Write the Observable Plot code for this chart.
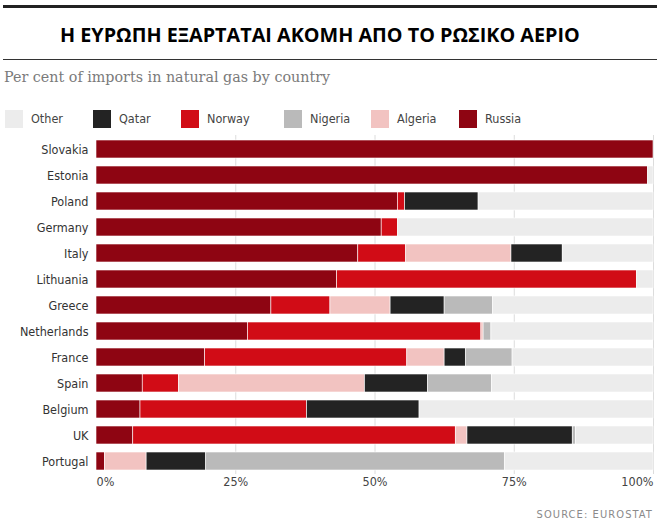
<!DOCTYPE html>
<html>
<head>
<meta charset="utf-8">
<script src="https://cdn.jsdelivr.net/npm/d3@7"></script>
<script src="https://cdn.jsdelivr.net/npm/@observablehq/plot@0.6"></script>
<style>
  html, body { margin: 0; padding: 0; background: #fff; }
  #wrap { position: relative; width: 667px; height: 529px; overflow: hidden; }
  .cond { font-family: "Liberation Sans Narrow", "DejaVu Sans Condensed", "Roboto Condensed", sans-serif; }
  #topRule { position: absolute; left: 3px; top: 5px; width: 654px; height: 3px; background: #222; }
  #title { position: absolute; left: 60px; top: 21px; font-family: "Open Sans", "Liberation Sans", sans-serif; font-weight: 700; font-size: 19.8px; color: #000; white-space: nowrap; }
  #midRule { position: absolute; left: 3px; top: 59px; width: 654px; height: 1px; background: #333; }
  #subtitle { position: absolute; left: 4px; top: 69px; font-family: "DejaVu Serif", Georgia, serif; font-size: 14.3px; color: #7a7a7a; white-space: nowrap; }
  .leg { position: absolute; top: 110px; height: 18px; }
  .sw { position: absolute; top: 0; width: 18px; height: 18px; }
  .lt { position: absolute; top: 1px; font-size: 12.5px; color: #444; white-space: nowrap; }
  #chart { position: absolute; left: 0; top: 135px; }
  #source { position: absolute; right: 14px; top: 508px; font-size: 11px; letter-spacing: 1.1px; color: #8a8a8a; white-space: nowrap; }
</style>
</head>
<body>
<div id="wrap">
  <div id="topRule"></div>
  <div id="title">Η ΕΥΡΩΠΗ ΕΞΑΡΤΑΤΑΙ ΑΚΟΜΗ ΑΠΟ ΤΟ ΡΩΣΙΚΟ ΑΕΡΙΟ</div>
  <div id="midRule"></div>
  <div id="subtitle">Per cent of imports in natural gas by country</div>
  <div id="legend" class="cond"></div>
  <div id="chart" class="cond"></div>
  <div id="source" class="cond">SOURCE: EUROSTAT</div>
</div>
<script>
// ---- data ----
const countries = ["Slovakia","Estonia","Poland","Germany","Italy","Lithuania","Greece","Netherlands","France","Spain","Belgium","UK","Portugal"];
const russia  = [100, 99.0, 54.1, 51.2, 47.0, 43.2, 31.4, 27.2, 19.5,  8.3,  7.9,  6.6,  1.5];
const norway  = [  0,  0,    1.3,  2.9,  8.6, 53.8, 10.6, 41.9, 36.3,  6.5, 29.9, 57.9,  0  ];
const algeria = [  0,  0,    0,    0,   18.9,  0,   10.8,  0.4,  6.7, 33.4,  0,    2.1,  7.5];
const qatar   = [  0,  0,   13.2,  0,    9.2,  0,    9.7,  0,    3.8, 11.3, 20.2, 18.9, 10.7];
const nigeria = [  0,  0,    0,    0,    0,    0,    8.7,  1.4,  8.4, 11.5,  0,    0.6, 53.6];
const other   = [  0,  1.0, 31.4, 45.9, 16.3,  3.0, 28.8, 29.1, 25.3, 29.0, 42.0, 13.9, 26.7];
const stackOrder = ["Russia","Norway","Algeria","Qatar","Nigeria","Other"];
const legendOrder = ["Other","Qatar","Norway","Nigeria","Algeria","Russia"];
const colors = {Russia:"#8e0512", Norway:"#d10c16", Algeria:"#f2c3c1", Qatar:"#232323", Nigeria:"#bababa", Other:"#ececec"};
const xTicks = [0, 25, 50, 75, 100];
const xTickLabels = ["0%","25%","50%","75%","100%"];

const seriesBySource = {Russia: russia, Norway: norway, Algeria: algeria, Qatar: qatar, Nigeria: nigeria, Other: other};
const rows = [];
countries.forEach((c, i) => {
  stackOrder.forEach(s => rows.push({country: c, source: s, value: seriesBySource[s][i]}));
});

// ---- legend ----
const legendX = {Other: 5, Qatar: 93, Norway: 181, Nigeria: 284, Algeria: 371, Russia: 459};
const legend = document.getElementById("legend");
legendOrder.forEach(s => {
  const g = document.createElement("div");
  g.className = "leg";
  g.style.left = legendX[s] + "px";
  const sw = document.createElement("div");
  sw.className = "sw";
  sw.style.left = "0px";
  sw.style.background = colors[s];
  const t = document.createElement("div");
  t.className = "lt";
  t.style.left = "26px";
  t.textContent = s;
  g.appendChild(sw); g.appendChild(t);
  legend.appendChild(g);
});

// ---- chart ----
const font = '"Liberation Sans Narrow", "DejaVu Sans Condensed", "Roboto Condensed", sans-serif';
const chart = Plot.plot({
  width: 667,
  height: 365,
  marginLeft: 96,
  marginRight: 14,
  marginTop: 0,
  marginBottom: 26,
  style: {fontFamily: font, fontSize: "12.5px", color: "#333", background: "#fff"},
  x: {domain: [0, 100], axis: null},
  y: {domain: countries, paddingInner: 0.31, paddingOuter: 0.15, axis: null},
  color: {domain: stackOrder, range: stackOrder.map(s => colors[s])},
  marks: [
    Plot.ruleX(xTicks.slice(1), {stroke: "#dcdcdc", strokeWidth: 1}),
    Plot.barX(rows, Plot.stackX({
      x: "value", y: "country", fill: "source", order: stackOrder,
      stroke: "#fff", strokeWidth: 0.6
    })),
    Plot.axisY({tickSize: 0, tickPadding: 8, label: null, fontSize: 12.5, color: "#333"}),
    Plot.text([xTicks[0]], {x: d => d, frameAnchor: "bottom", dy: 11, text: () => xTickLabels[0], textAnchor: "start", fill: "#444", fontSize: 12.5}),
    Plot.text(xTicks.slice(1, 4), {x: d => d, frameAnchor: "bottom", dy: 11, text: (d, i) => xTickLabels[i + 1], textAnchor: "middle", fill: "#444", fontSize: 12.5}),
    Plot.text([xTicks[4]], {x: d => d, frameAnchor: "bottom", dy: 11, text: () => xTickLabels[4], textAnchor: "end", fill: "#444", fontSize: 12.5})
  ]
});
document.getElementById("chart").appendChild(chart);
</script>
</body>
</html>
